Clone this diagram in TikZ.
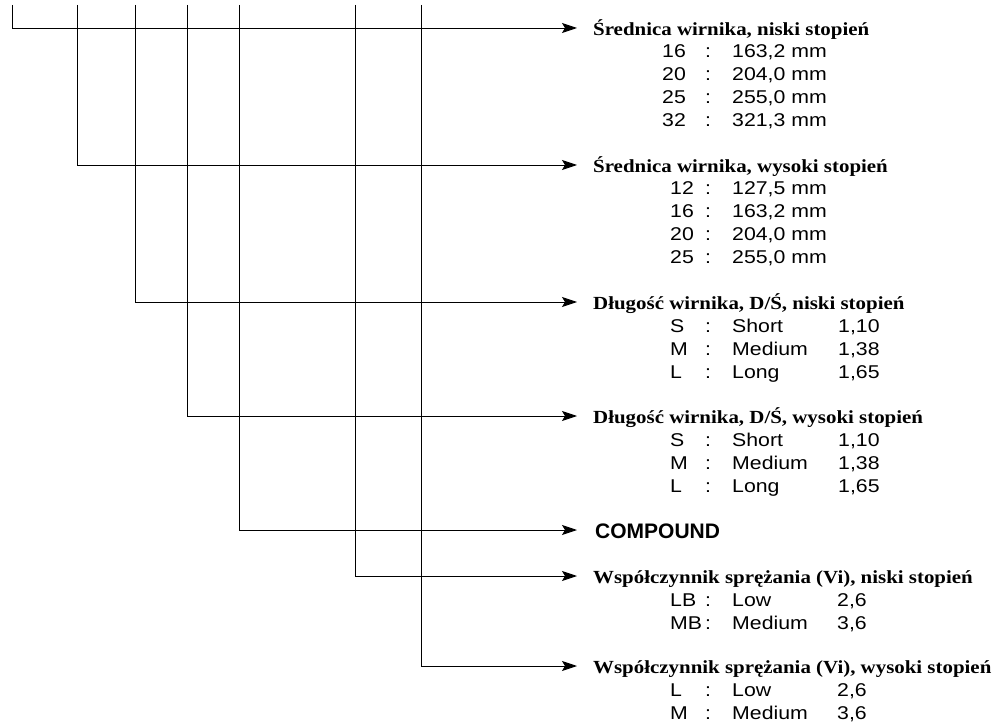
\documentclass[tikz,border=0pt]{standalone}
\usepackage{fontspec}
\setmainfont{Liberation Serif}
\newfontfamily\headfont[FakeStretch=1.13]{Liberation Serif}
\newfontfamily\rowfont[FakeStretch=1.15]{Liberation Sans}
\newfontfamily\capfont[FakeStretch=1.0]{Liberation Sans}
\usetikzlibrary{arrows.meta}
\tikzset{
  conn/.style={line width=0.9pt, -{Stealth[length=15pt,width=10pt,inset=3pt]}},
  head/.style={anchor=base west, inner sep=0pt, font=\headfont\bfseries\fontsize{18.5}{22}\selectfont},
  rows/.style={anchor=base west, inner sep=0pt, font=\rowfont\fontsize{18.5}{23}\selectfont},
  boldhead/.style={anchor=base west, inner sep=0pt, font=\capfont\bfseries\fontsize{21}{25}\selectfont},
}
\newcommand\tabA[1]{\begin{tabular}[t]{@{}p{43pt}@{}p{27pt}@{}l@{}}#1\end{tabular}}
\newcommand\tabB[1]{\begin{tabular}[t]{@{}p{35pt}@{}p{27pt}@{}l@{}}#1\end{tabular}}
\newcommand\tabC[1]{\begin{tabular}[t]{@{}p{35pt}@{}p{27pt}@{}p{106pt}@{}l@{}}#1\end{tabular}}
\newcommand\tabD[1]{\begin{tabular}[t]{@{}p{35pt}@{}p{27pt}@{}p{105pt}@{}l@{}}#1\end{tabular}}
\begin{document}
\begin{tikzpicture}[x=1pt,y=-1pt]
\useasboundingbox (0,0) rectangle (999,722);
% top ends of the vertical lines
\coordinate (v1) at (12,5);
\coordinate (v2) at (77,5);
\coordinate (v3) at (135,5);
\coordinate (v4) at (187,5);
\coordinate (v5) at (239,5);
\coordinate (v6) at (355,5);
\coordinate (v7) at (421,5);
% arrow tips
\coordinate (a1) at (577,28);
\coordinate (a2) at (577,165);
\coordinate (a3) at (577,302);
\coordinate (a4) at (577,416);
\coordinate (a5) at (577,530);
\coordinate (a6) at (577,576);
\coordinate (a7) at (577,666);
% headings
\node[head] (h1) at (593,35.5) {Średnica wirnika, niski stopień};
\node[head] (h2) at (593,172.5) {Średnica wirnika, wysoki stopień};
\node[head] (h3) at (593,309.5) {Długość wirnika, D/Ś, niski stopień};
\node[head] (h4) at (593,423.5) {Długość wirnika, D/Ś, wysoki stopień};
\node[boldhead] (h5) at (595,538) {COMPOUND};
\node[head] (h6) at (593,583.5) {Współczynnik sprężania (Vi), niski stopień};
\node[head] (h7) at (593,673.5) {Współczynnik sprężania (Vi), wysoki stopień};
% rows
\node[rows] (r1) at (662,58) {\tabA{16 & : & 163,2 mm\\ 20 & : & 204,0 mm\\ 25 & : & 255,0 mm\\ 32 & : & 321,3 mm}};
\node[rows] (r2) at (670,195) {\tabB{12 & : & 127,5 mm\\ 16 & : & 163,2 mm\\ 20 & : & 204,0 mm\\ 25 & : & 255,0 mm}};
\node[rows] (r3) at (670,332) {\tabC{S & : & Short & 1,10\\ M & : & Medium & 1,38\\ L & : & Long & 1,65}};
\node[rows] (r4) at (670,446) {\tabC{S & : & Short & 1,10\\ M & : & Medium & 1,38\\ L & : & Long & 1,65}};
\node[rows] (r6) at (670,606) {\tabD{LB & : & Low & 2,6\\ MB & : & Medium & 3,6}};
\node[rows] (r7) at (670,696) {\tabD{L & : & Low & 2,6\\ M & : & Medium & 3,6}};
% connectors
\draw[conn] (v1) |- (a1);
\draw[conn] (v2) |- (a2);
\draw[conn] (v3) |- (a3);
\draw[conn] (v4) |- (a4);
\draw[conn] (v5) |- (a5);
\draw[conn] (v6) |- (a6);
\draw[conn] (v7) |- (a7);
\end{tikzpicture}
\end{document}
